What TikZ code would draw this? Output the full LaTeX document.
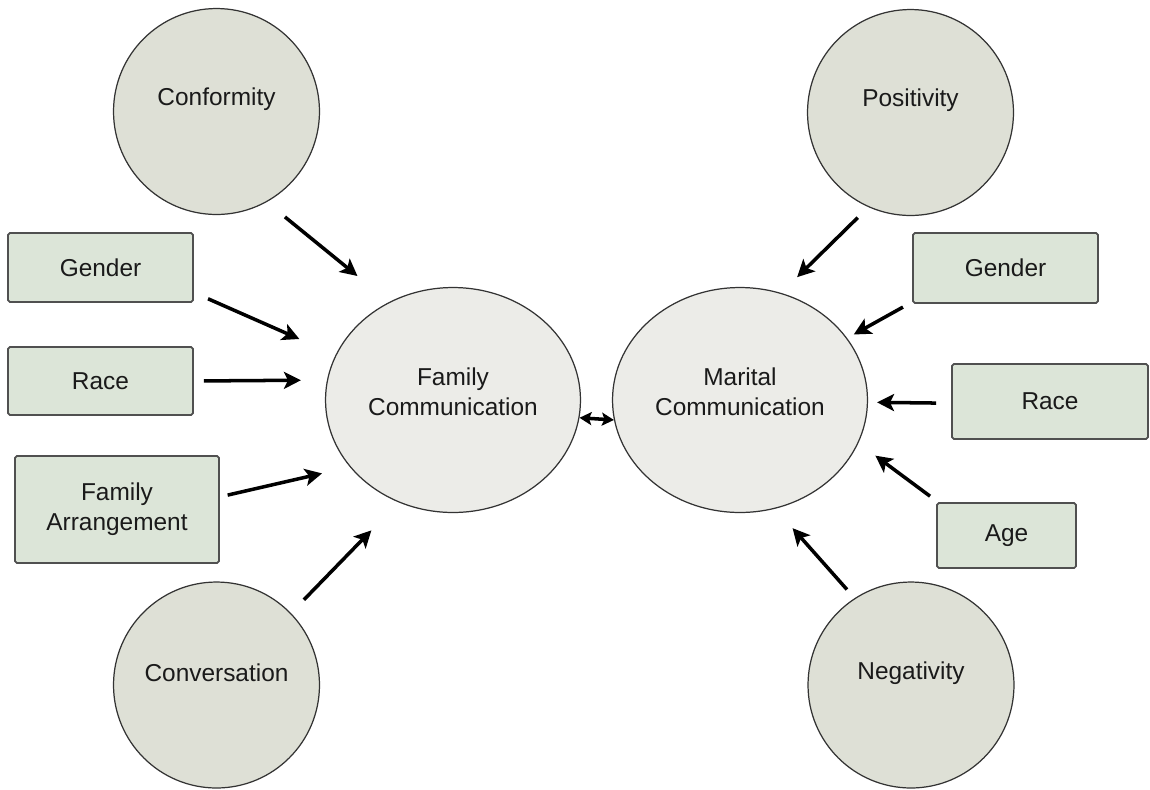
\documentclass[tikz,border=0pt]{standalone}
\usepackage{fontspec}
\setmainfont{Liberation Sans}
\usetikzlibrary{arrows.meta,shapes.geometric}
\definecolor{circfill}{HTML}{DEE0D6}
\definecolor{ellfill}{HTML}{ECECE8}
\definecolor{boxfill}{HTML}{DCE5D8}
\definecolor{boxline}{HTML}{505050}
\definecolor{circline}{HTML}{333333}
\definecolor{ink}{HTML}{1A1A1A}

\begin{document}
\begin{tikzpicture}[x=0.02cm,y=-0.02cm,
  font=\fontsize{13.9}{17}\selectfont, text=ink,
  factor/.style={circle, draw=circline, line width=0.7pt, fill=circfill,
    minimum size=4.12cm, inner sep=0pt},
  comm/.style={ellipse, draw=circline, line width=0.7pt, fill=ellfill,
    minimum width=5.1cm, minimum height=4.5cm, inner sep=0pt},
  covar/.style={rectangle, draw=boxline, line width=1pt, fill=boxfill,
    rounded corners=1pt, inner sep=0pt, align=center},
  tag/.style={inner sep=0pt, align=center, yshift=0.24cm},
  ctag/.style={inner sep=0pt, align=center, yshift=0.16cm},
  flow/.style={-{Stealth[length=0.34cm,width=0.34cm,inset=0.08cm]},
    line width=2pt, black},
  dbl/.style={{Stealth[length=0.24cm,width=0.26cm,inset=0.05cm]}-{Stealth[length=0.24cm,width=0.26cm,inset=0.05cm]},
    line width=2pt, black}
]
\useasboundingbox (0,0) rectangle (1150,789);

% latent factors
\node[factor, label={[tag]center:Conformity}]   (conf) at (216.5,111.5) {};
\node[factor, label={[tag]center:Conversation}] (conv) at (216.5,685) {};
\node[factor, label={[tag]center:Positivity}]   (pos)  at (910.5,112.5) {};
\node[factor, label={[tag]center:Negativity}]   (neg)  at (911,685) {};

% outcomes
\node[comm, label={[ctag]center:Family\\Communication}]  (fc) at (453,400) {};
\node[comm, label={[ctag]center:Marital\\Communication}] (mc) at (740,400) {};

% observed covariates
\node[covar, minimum width=3.70cm, minimum height=1.38cm] (genl)  at (100.5,267.5) {Gender};
\node[covar, minimum width=3.70cm, minimum height=1.36cm] (racel) at (100.5,381) {Race};
\node[covar, minimum width=4.08cm, minimum height=2.14cm] (arr)   at (117,509.5) {Family\\Arrangement};
\node[covar, minimum width=3.70cm, minimum height=1.40cm] (genr)  at (1005.5,268) {Gender};
\node[covar, minimum width=3.92cm, minimum height=1.50cm] (racer) at (1050,401.5) {Race};
\node[covar, minimum width=2.78cm, minimum height=1.30cm] (age)   at (1006.5,535.5) {Age};

% paths into family communication
\draw[flow, shorten <=0.47cm, shorten >=0.82cm] (conf.-61)  -- (fc.123.2);
\draw[flow, shorten <=0.31cm, shorten >=0.79cm] (genl.-15.3) -- (fc.159.6);
\draw[flow, shorten <=0.20cm, shorten >=0.52cm] (racel.east) -- (fc.171.4);
\draw[flow, shorten <=0.16cm, shorten >=0.57cm] (arr.7.6)   -- (fc.-147.9);
\draw[flow, shorten <=0.37cm, shorten >=0.78cm] (conv.44.6) -- (fc.-118.8);

% reciprocal link
\draw[dbl] (fc.-8.1) -- (mc.-171.9);

% paths into marital communication
\draw[flow, shorten <=0.30cm, shorten >=0.45cm] (pos.-114.8)   -- (mc.69.4);
\draw[flow, shorten <=0.21cm, shorten >=0.15cm] (genr.-160.4)  -- (mc.30.4);
\draw[flow, shorten <=0.30cm, shorten >=0.18cm] (racer.-179.1) -- (mc.-1.3);
\draw[flow, shorten <=0.20cm, shorten >=0.42cm] (age.154.6)    -- (mc.-20.2);
\draw[flow, shorten <=0.23cm, shorten >=0.52cm] (neg.123.1)    -- (mc.-72.2);
\end{tikzpicture}
\end{document}
